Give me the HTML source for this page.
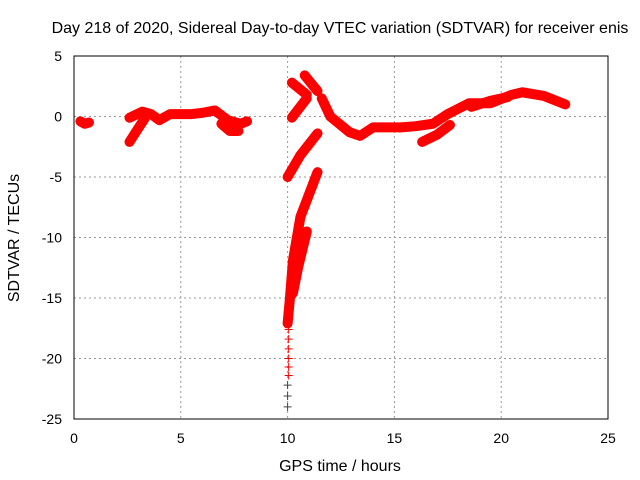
<!DOCTYPE html>
<html><head><meta charset="utf-8"><style>
body{margin:0;background:#fff;}
svg{display:block;font-family:"Liberation Sans",sans-serif;}
</style></head><body>
<svg id="chart" width="640" height="480">
<text x="340" y="33" text-anchor="middle" font-size="16">Day 218 of 2020, Sidereal Day-to-day VTEC variation (SDTVAR) for receiver enis</text>
<text x="340" y="471" text-anchor="middle" font-size="16">GPS time / hours</text>
<text transform="translate(19,238) rotate(-90)" text-anchor="middle" font-size="16">SDTVAR / TECUs</text>
<g id="grid"></g><g id="ticks"></g><g id="marks"></g>
<rect x="74" y="56" width="534" height="363" fill="none" stroke="#000" stroke-width="1"/>
</svg>
<script>
const xTicks=[0,5,10,15,20,25];
const yTicks=[5,0,-5,-10,-15,-20,-25];
const trackA=[[0.3,-0.4],[0.5,-0.6],[0.7,-0.5]];
const trackB1=[[2.6,-0.1],[3.2,0.4],[3.6,0.2],[4.0,-0.3],[4.5,0.2],[5.5,0.2],[6.0,0.3],[6.6,0.5],[7.2,-0.3],[7.8,-0.6],[8.1,-0.4]];
const trackB2=[[2.6,-2.1],[3.0,-1.0],[3.3,-0.2]];
const trackB3=[[6.9,-0.6],[7.3,-1.2],[7.7,-1.2]];
const trackC1=[[10.8,3.4],[11.4,2.1]];
const trackC2=[[10.2,2.8],[10.9,1.8]];
const trackC3=[[10.2,-0.1],[10.9,1.5]];
const trackC4=[[11.6,1.5],[12.0,0],[12.9,-1.3],[13.4,-1.6],[14.0,-0.9],[15.3,-0.9]];
const trackD1=[[15.3,-0.9],[16.0,-0.8],[16.8,-0.6],[17.5,0.2],[18.5,1.1],[19.5,1.1],[20.5,1.8],[21.0,2.0],[22.0,1.7],[23.0,1.0]];
const trackD2=[[16.3,-2.1],[17.0,-1.5],[17.6,-0.7]];
const trackD3=[[18.6,0.8],[19.5,1.3],[20.3,1.6]];
const trackE1=[[10.0,-5.0],[10.6,-3.2],[11.4,-1.4]];
const trackE2=[[11.4,-4.6],[10.6,-8.3],[10.25,-11.9],[10.1,-15.2],[10.0,-17.1]];
const trackE3=[[10.9,-9.5],[10.5,-12.4],[10.25,-14.6]];
const tailT=[10.05,10.05,10.05,10.05,10.05,10.05];
const tailV=[-17.6,-18.4,-19.2,-20.0,-20.7,-21.4];
const darkT=[10.0,10.0,10.0];
const darkV=[-22.2,-23.1,-24.0];
const tracks=[trackA,trackB1,trackB2,trackB3,trackC1,trackC2,trackC3,trackC4,trackD1,trackD2,trackD3,trackE1,trackE2,trackE3];
const NS="http://www.w3.org/2000/svg";
const X=t=>74+t*534/25;
const Y=v=>56+(5-v)*363/30;
function mk(tag,parent){const e=document.createElementNS(NS,tag);document.getElementById(parent).appendChild(e);return e;}
xTicks.forEach(t=>{
 if(t>0&&t<25){const l=mk('line','grid');l.setAttribute('x1',X(t));l.setAttribute('x2',X(t));l.setAttribute('y1',56);l.setAttribute('y2',419);l.setAttribute('stroke','#999');l.setAttribute('stroke-dasharray','2,3');
 
 }
 const tk=mk('text','ticks');tk.setAttribute('x',X(t));tk.setAttribute('y',443);tk.setAttribute('text-anchor','middle');tk.setAttribute('font-size','14');tk.textContent=t;
 
 
});
yTicks.forEach(v=>{
 if(v<5&&v>-25){const l=mk('line','grid');l.setAttribute('x1',74);l.setAttribute('x2',608);l.setAttribute('y1',Y(v));l.setAttribute('y2',Y(v));l.setAttribute('stroke','#999');l.setAttribute('stroke-dasharray','2,3');
 
 }
 const tk=mk('text','ticks');tk.setAttribute('x',62);tk.setAttribute('y',Y(v)+5);tk.setAttribute('text-anchor','end');tk.setAttribute('font-size','14');tk.textContent=v;
 
 
});
function plus(t,v,c){const p=mk('path','marks');const x=X(t),y=Y(v);p.setAttribute('d',`M${x-4},${y}H${x+4}M${x},${y-4}V${y+4}`);p.setAttribute('stroke',c);p.setAttribute('stroke-width','1');
 
 }
tracks.forEach(tr=>{
 const pl=mk('polyline','marks');pl.setAttribute('points',tr.map(p=>X(p[0])+','+Y(p[1])).join(' '));
 pl.setAttribute('fill','none');pl.setAttribute('stroke','#f00');pl.setAttribute('stroke-width','10');pl.setAttribute('stroke-linecap','round');pl.setAttribute('stroke-linejoin','round');
 
 
 tr.forEach(p=>plus(p[0],p[1],'#f00'));
});
tailT.forEach((t,i)=>plus(t,tailV[i],'#f00'));
darkT.forEach((t,i)=>plus(t,darkV[i],'#444'));
</script>
</body></html>
